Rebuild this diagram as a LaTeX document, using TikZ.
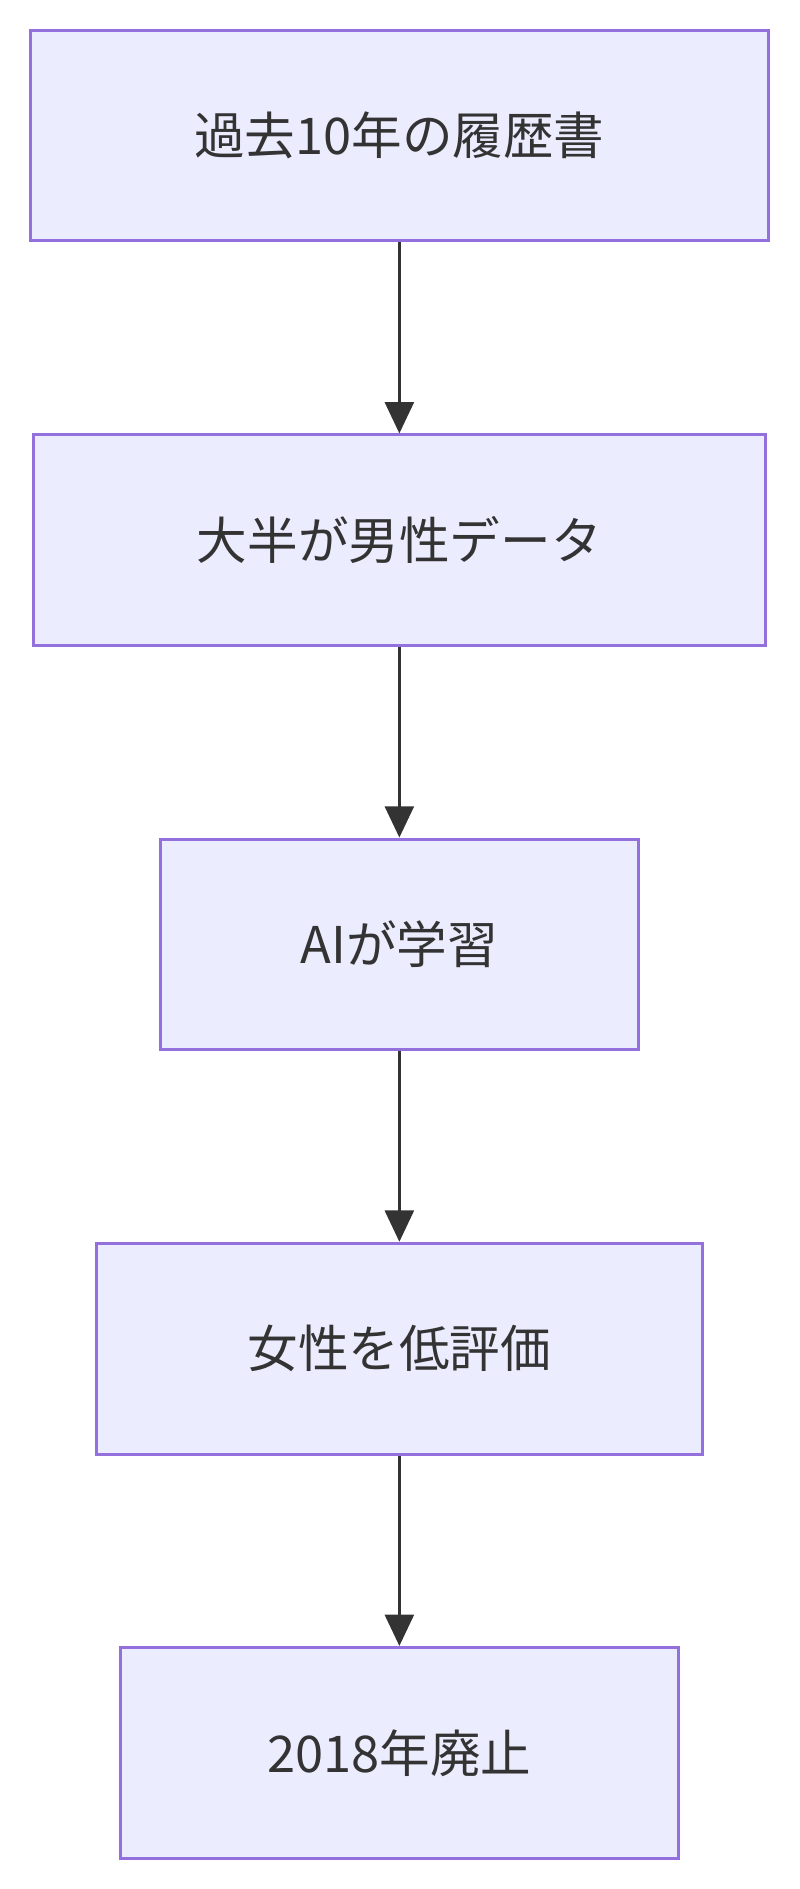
\documentclass[tikz,border=0pt]{standalone}
\usepackage{fontspec}
\setmainfont{Noto Sans CJK JP}
\usetikzlibrary{arrows.meta}
\definecolor{boxfill}{HTML}{ECECFF}
\definecolor{boxline}{HTML}{9370DB}
\definecolor{ink}{HTML}{333333}
\begin{document}
\begin{tikzpicture}[x=1pt,y=1pt]
	\tikzstyle{stage}=[draw=boxline,fill=boxfill,line width=2.5pt,text=ink,minimum height=175pt,inner sep=0pt,font=\fontsize{42}{50}\selectfont]
	\tikzstyle{flow}=[draw=ink,line width=2.5pt,-{Triangle[length=26pt,width=24pt]}]
	\useasboundingbox (0,0) rectangle (664,-1568);
	\node [stage,minimum width=613pt] (hist) at (331.5,-112.5) {過去10年の履歴書};
	\node [stage,minimum width=607pt] (male) at (331.5,-448.5) {大半が男性データ};
	\node [stage,minimum width=397pt] (learn) at (331.5,-784) {AIが学習};
	\node [stage,minimum width=503pt] (low) at (331.5,-1119.5) {女性を低評価};
	\node [stage,minimum width=463pt] (end) at (331.5,-1455) {2018年廃止};
	\draw [flow] (hist) -- (male);
	\draw [flow] (male) -- (learn);
	\draw [flow] (learn) -- (low);
	\draw [flow] (low) -- (end);
\end{tikzpicture}
\end{document}
